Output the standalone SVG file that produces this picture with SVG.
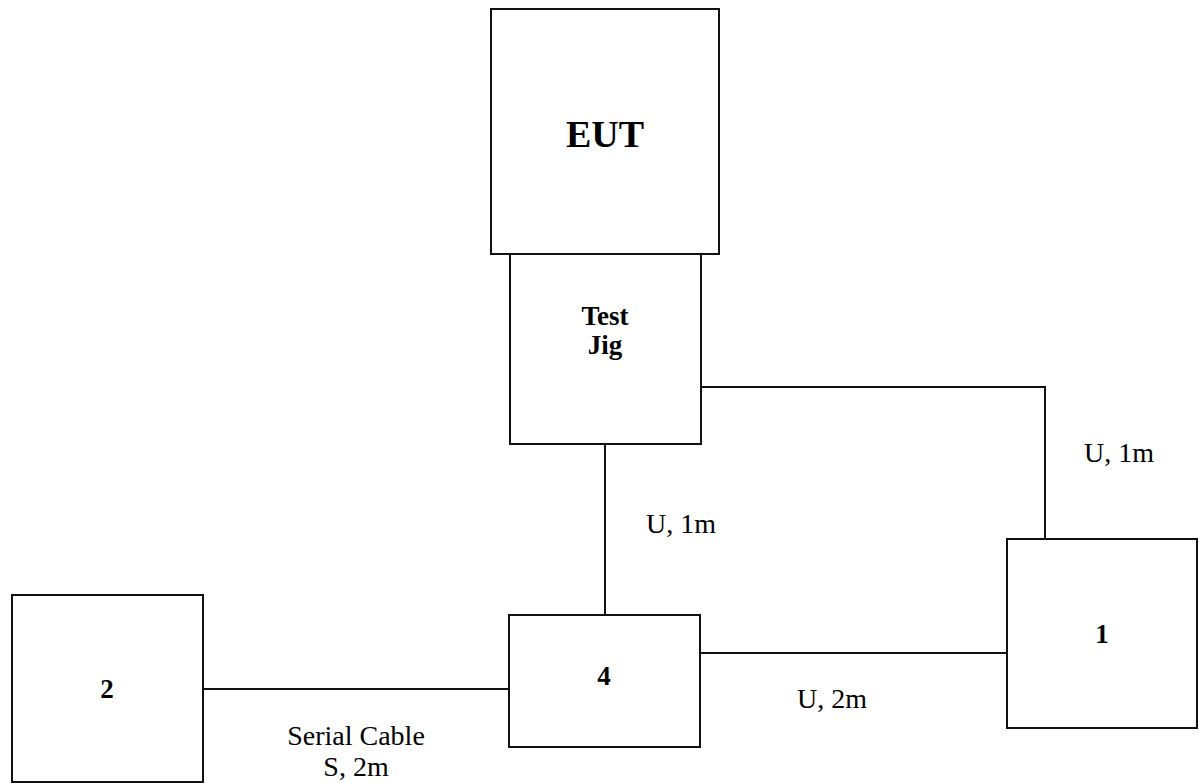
<svg xmlns="http://www.w3.org/2000/svg" width="1200" height="783" viewBox="0 0 1200 783">
<style>
.box{fill:none;stroke:#111;stroke-width:2}
.wire{fill:none;stroke:#111;stroke-width:2}
.b{font-family:"Liberation Serif","Times New Roman",serif;font-weight:bold;fill:#000;text-anchor:middle}
.r{font-family:"Liberation Serif","Times New Roman",serif;fill:#000;text-anchor:middle;font-size:28px}
</style>
<rect width="1200" height="783" fill="#fff"/>
<g id="connectors">
<path class="wire" d="M605,444 V615"/>
<path class="wire" d="M701,387 H1045 V539"/>
<path class="wire" d="M700,653 H1007"/>
<path class="wire" d="M203,689 H509"/>
<text class="r" x="681" y="533">U, 1m</text>
<text class="r" x="1119" y="462">U, 1m</text>
<text class="r" x="832" y="708">U, 2m</text>
<text class="r" x="356" y="745">Serial Cable</text>
<text class="r" x="356" y="776">S, 2m</text>
</g>
<g id="eut">
<rect class="box" x="491" y="9" width="228" height="245"/>
<text class="b" x="605" y="147" font-size="38">EUT</text>
</g>
<g id="jig">
<rect class="box" x="510" y="254" width="191" height="190"/>
<text class="b" x="605" y="325" font-size="27">Test</text>
<text class="b" x="605" y="354" font-size="27">Jig</text>
</g>
<g id="n2">
<rect class="box" x="12" y="595" width="191" height="187"/>
<text class="b" x="107" y="698" font-size="27">2</text>
</g>
<g id="n4">
<rect class="box" x="509" y="615" width="191" height="132"/>
<text class="b" x="604" y="685" font-size="27">4</text>
</g>
<g id="n1">
<rect class="box" x="1007" y="539" width="190" height="189"/>
<text class="b" x="1102" y="643" font-size="27">1</text>
</g>
</svg>
